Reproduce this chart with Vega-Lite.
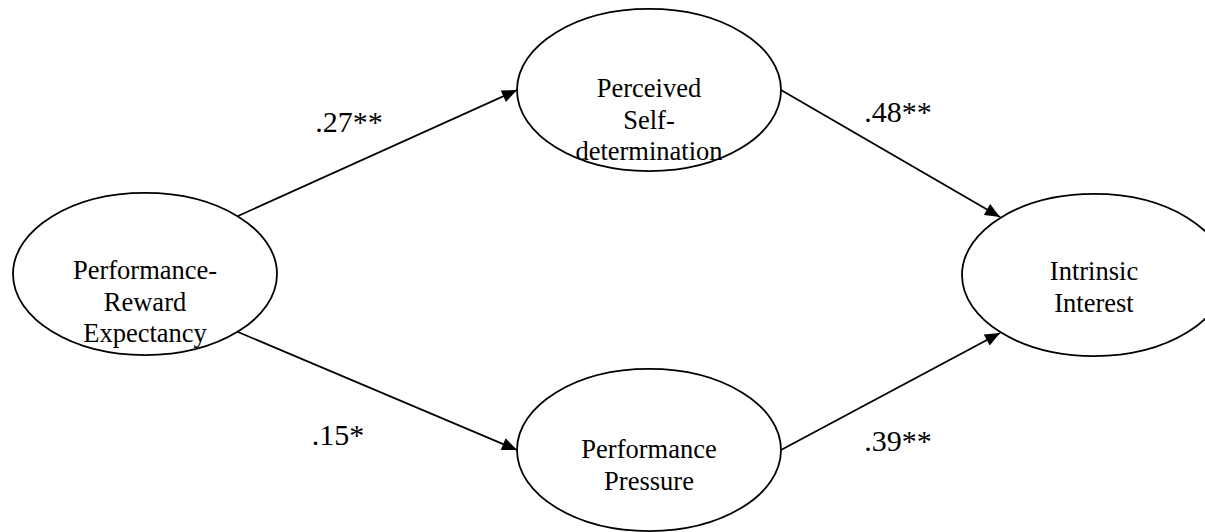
{
  "$schema": "https://vega.github.io/schema/vega-lite/v6.json",
  "width": 1205,
  "height": 532,
  "autosize": {"type": "none"},
  "padding": 0,
  "background": "white",
  "config": {"view": {"stroke": null}},
  "datasets": {
    "nodes": [
      {"name": "Performance-\nReward\nExpectancy", "x": 145, "y": 274, "ty": 271},
      {"name": "Perceived\nSelf-\ndetermination", "x": 649, "y": 90, "ty": 89},
      {"name": "Performance\nPressure", "x": 649, "y": 450, "ty": 450},
      {"name": "Intrinsic\nInterest", "x": 1094, "y": 275, "ty": 272}
    ],
    "edges": [
      {"x": 238, "y": 216, "x2": 517, "y2": 90, "angle": 335.7, "label": ".27**", "lx": 349, "ly": 123},
      {"x": 781, "y": 90, "x2": 1000, "y2": 217, "angle": 30.1, "label": ".48**", "lx": 898, "ly": 113},
      {"x": 238, "y": 332, "x2": 517, "y2": 450, "angle": 22.9, "label": ".15*", "lx": 338, "ly": 436},
      {"x": 781, "y": 450, "x2": 1000, "y2": 333, "angle": 331.9, "label": ".39**", "lx": 898, "ly": 442}
    ]
  },
  "layer": [
    {
      "data": {"name": "edges"},
      "mark": {"type": "rule", "color": "black", "strokeWidth": 1.8},
      "encoding": {
        "x": {"field": "x", "type": "quantitative", "scale": {"domain": [0, 1205], "nice": false, "zero": false}, "axis": null},
        "y": {"field": "y", "type": "quantitative", "scale": {"domain": [0, 532], "nice": false, "zero": false, "reverse": true}, "axis": null},
        "x2": {"field": "x2"},
        "y2": {"field": "y2"}
      }
    },
    {
      "data": {"name": "edges"},
      "mark": {"type": "point", "shape": "M-1,-0.42L0,0L-1,0.42Z", "size": 900, "filled": true, "color": "black", "opacity": 1, "strokeWidth": 0},
      "encoding": {
        "x": {"field": "x2", "type": "quantitative", "scale": {"domain": [0, 1205], "nice": false, "zero": false}, "axis": null},
        "y": {"field": "y2", "type": "quantitative", "scale": {"domain": [0, 532], "nice": false, "zero": false, "reverse": true}, "axis": null},
        "angle": {"field": "angle", "type": "quantitative", "scale": null}
      }
    },
    {
      "data": {"name": "nodes"},
      "mark": {"type": "point", "shape": "M-1,0C-1,-0.339,-0.552,-0.614,0,-0.614C0.552,-0.614,1,-0.339,1,0C1,0.339,0.552,0.614,0,0.614C-0.552,0.614,-1,0.339,-1,0Z", "size": 69696, "filled": false, "stroke": "black", "strokeWidth": 1.8, "opacity": 1},
      "encoding": {
        "x": {"field": "x", "type": "quantitative", "scale": {"domain": [0, 1205], "nice": false, "zero": false}, "axis": null},
        "y": {"field": "y", "type": "quantitative", "scale": {"domain": [0, 532], "nice": false, "zero": false, "reverse": true}, "axis": null}
      }
    },
    {
      "data": {"name": "nodes"},
      "mark": {"type": "text", "font": "Liberation Serif", "fontSize": 26.5, "lineHeight": 31.5, "lineBreak": "\n", "align": "center", "baseline": "middle", "color": "black"},
      "encoding": {
        "x": {"field": "x", "type": "quantitative", "scale": {"domain": [0, 1205], "nice": false, "zero": false}, "axis": null},
        "y": {"field": "ty", "type": "quantitative", "scale": {"domain": [0, 532], "nice": false, "zero": false, "reverse": true}, "axis": null},
        "text": {"field": "name", "type": "nominal"}
      }
    },
    {
      "data": {"name": "edges"},
      "mark": {"type": "text", "font": "Liberation Serif", "fontSize": 30, "align": "center", "baseline": "middle", "color": "black"},
      "encoding": {
        "x": {"field": "lx", "type": "quantitative", "scale": {"domain": [0, 1205], "nice": false, "zero": false}, "axis": null},
        "y": {"field": "ly", "type": "quantitative", "scale": {"domain": [0, 532], "nice": false, "zero": false, "reverse": true}, "axis": null},
        "text": {"field": "label", "type": "nominal"}
      }
    }
  ]
}
